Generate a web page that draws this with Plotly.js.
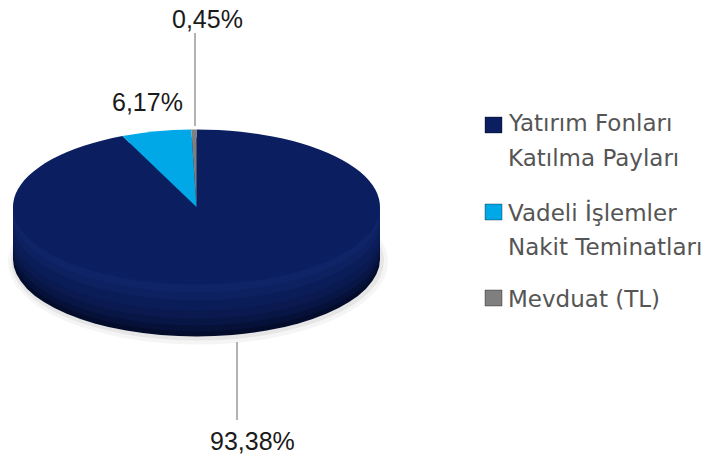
<!DOCTYPE html>
<html>
<head>
<meta charset="utf-8">
<script src="https://cdn.plot.ly/plotly-3.0.1.min.js"></script>
<style>
  html, body { margin: 0; padding: 0; background: #ffffff; }
  #chart { width: 726px; height: 459px; }
</style>
</head>
<body>
<div id="chart"></div>
<script>
// ---- data ----
const categories = ['Yatırım Fonları Katılma Payları', 'Vadeli İşlemler Nakit Teminatları', 'Mevduat (TL)'];
const legendLines = [['Yatırım Fonları', 'Katılma Payları'], ['Vadeli İşlemler', 'Nakit Teminatları'], ['Mevduat (TL)']];
const values = [93.38, 6.17, 0.45];
const colors = ['#0b1f60', '#00a8e8', '#7f7f7f'];

// ---- layout helpers (pixel -> paper) ----
const W = 726, H = 459;
const px = x => x / W;
const py = y => 1 - y / H;

// pie geometry (pixels)
const cx = 196.5, cy = 207, R = 183.5, RY = 77.5, DEPTH = 52;
const squish = RY / R;

const fmt = v => v.toFixed(2).replace('.', ',') + '%';

// label positions for the slices (pixels) and leader lines
const labelPos = [[252, 441], [147, 102], [207, 19]];
const leaders = [[237, 342, 237, 420], [null], [195, 33, 195, 126]];

const annotations = [];
const shapes = [];

// soft shadow under the pie
shapes.push({type: 'circle', xref: 'paper', yref: 'paper', layer: 'below',
  x0: px(cx - R - 5), x1: px(cx + R + 8), y0: py(cy + DEPTH + RY + 8), y1: py(cy + DEPTH - RY - 2),
  fillcolor: 'rgba(0,0,0,0.04)', line: {width: 0}});
shapes.push({type: 'circle', xref: 'paper', yref: 'paper', layer: 'below',
  x0: px(cx - R - 2), x1: px(cx + R + 4), y0: py(cy + DEPTH + RY + 4), y1: py(cy + DEPTH - RY),
  fillcolor: 'rgba(0,0,0,0.06)', line: {width: 0}});
// side of the 3D pie: rect + stacked ellipses from dark (bottom) to lighter (top)
shapes.push({type: 'rect', xref: 'paper', yref: 'paper', layer: 'below',
  x0: px(cx - R), x1: px(cx + R), y0: py(cy + DEPTH), y1: py(cy),
  fillcolor: '#0a1b56', line: {width: 0}});
const sideBands = [[0, '#040c2c'], [5, '#06113a'], [11, '#081646'], [18, '#0a1a50'], [26, '#0b1d58'], [36, '#0d2160'], [44, '#0e2466']];
sideBands.forEach(([off, col]) => {
  const c = cy + DEPTH - off;
  shapes.push({type: 'circle', xref: 'paper', yref: 'paper', layer: 'below',
    x0: px(cx - R), x1: px(cx + R), y0: py(c + RY), y1: py(c - RY),
    fillcolor: col, line: {width: 0}});
});

values.forEach((v, i) => {
  annotations.push({xref: 'paper', yref: 'paper', x: px(labelPos[i][0]), y: py(labelPos[i][1]),
    xanchor: 'center', yanchor: 'middle', showarrow: false, text: fmt(v),
    font: {family: 'Liberation Sans, Arial, sans-serif', size: 25, color: '#1a1a1a'}});
  const L = leaders[i];
  if (L[0] !== null) {
    shapes.push({type: 'line', xref: 'paper', yref: 'paper', layer: 'above',
      x0: px(L[0]), x1: px(L[2]), y0: py(L[1]), y1: py(L[3]),
      line: {color: '#9a9a9a', width: 1.5}});
  }
});

// custom legend
const legSquareY = [125, 212, 298];
const legLineY = [[123, 158], [212, 247], [299]];
categories.forEach((c, i) => {
  shapes.push({type: 'rect', xref: 'paper', yref: 'paper', layer: 'above',
    x0: px(485), x1: px(502), y0: py(legSquareY[i] + 8), y1: py(legSquareY[i] - 8),
    fillcolor: colors[i], line: {width: 1, color: 'rgba(0,0,0,0.35)'}});
  legendLines[i].forEach((t, j) => {
    annotations.push({xref: 'paper', yref: 'paper', x: px(506), y: py(legLineY[i][j]),
      xanchor: 'left', yanchor: 'middle', showarrow: false, text: t,
      font: {family: 'DejaVu Sans', size: 23, color: '#555555'}});
  });
});

const domX = [px(cx - R), px(cx + R)];
const half = (R + 3) / H;
const domY = [py(cy) - half, py(cy) + half];

const trace = {
  type: 'pie',
  labels: categories,
  values: values,
  marker: {colors: colors, line: {width: 0}},
  sort: false,
  direction: 'clockwise',
  rotation: 0,
  textinfo: 'none',
  hoverinfo: 'none',
  showlegend: false,
  domain: {x: domX, y: domY}
};

const layout = {
  width: W, height: H,
  margin: {l: 0, r: 0, t: 0, b: 0},
  paper_bgcolor: '#ffffff',
  plot_bgcolor: '#ffffff',
  showlegend: false,
  shapes: shapes,
  annotations: annotations
};

Plotly.newPlot('chart', [trace], layout, {displayModeBar: false, staticPlot: true}).then(gd => {
  const g = gd.querySelector('.pielayer');
  if (g) {
    g.setAttribute('transform', 'translate(0,' + (cy * (1 - squish)) + ') scale(1,' + squish + ')');
  }
});
</script>
</body>
</html>
